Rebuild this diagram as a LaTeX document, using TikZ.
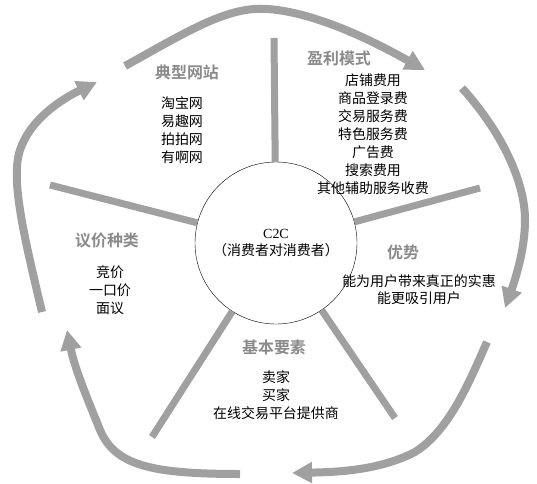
\documentclass[tikz,border=0pt]{standalone}
\usepackage{fontspec}
\setmainfont{Liberation Serif}
\newfontfamily\cjk{Noto Sans CJK SC}
\newfontfamily\cjkbold{Noto Sans CJK SC Bold}
\usetikzlibrary{arrows.meta}
\definecolor{ringgray}{RGB}{160,160,160}
\definecolor{headgray}{RGB}{138,138,138}

\begin{document}
\begin{tikzpicture}[x=1bp, y=-1bp,
  title/.style={font=\cjkbold\fontsize{16}{18}\selectfont, text=headgray},
  items/.style={font=\cjk\fontsize{14}{18}\selectfont, align=center, inner sep=0pt},
  spoke/.style={draw=ringgray, line width=7bp},
  cycle/.style={draw=ringgray, line width=8bp, -{Triangle[length=20bp,width=20bp]}}]
  \useasboundingbox (0,0) rectangle (537,484);

  %--- Centre ---
  \node[circle, draw, thin, minimum size=162bp, inner sep=0pt, font=\fontsize{14}{17}\selectfont, align=center] (c2c) at (276,243) {C2C\\{\cjk （消费者对消费者）}};

  % spoke ends
  \coordinate (sTop) at (274,38);
  \coordinate (sRight) at (480,188);
  \coordinate (sLowR) at (395,418);
  \coordinate (sLowL) at (152,437);
  \coordinate (sLeft) at (50,185);

  \draw[spoke] (c2c) -- (sTop);
  \draw[spoke] (c2c) -- (sRight);
  \draw[spoke] (c2c) -- (sLowR);
  \draw[spoke] (c2c) -- (sLowL);
  \draw[spoke] (c2c) -- (sLeft);

  %--- Sectors ---
  % typical sites
  \node[title] (sites) at (187,72) {典型网站};
  \node[items] (sitesList) at (182,130) {淘宝网\\易趣网\\拍拍网\\有啊网};

  % profit model
  \node[title] (profit) at (339,58) {盈利模式};
  \node[items] (profitList) at (373,134) {店铺费用\\商品登录费\\交易服务费\\特色服务费\\广告费\\搜索费用\\其他辅助服务收费};

  % advantages
  \node[title] (adv) at (403,252) {优势};
  \node[items, font=\cjk\fontsize{14}{17}\selectfont] (advList) at (419,290) {能为用户带来真正的实惠\\能更吸引用户};

  % basic elements
  \node[title] (basics) at (274,347) {基本要素};
  \node[items] (basicsList) at (276,395) {卖家\\买家\\在线交易平台提供商};

  % bargaining types
  \node[title] (bargain) at (107,241) {议价种类};
  \node[items] (bargainList) at (110,290) {竞价\\一口价\\面议};

  %--- Outer cycle ---
  \coordinate (aTopS) at (125,66);
  \coordinate (aTopE) at (425,70);
  \coordinate (aRightS) at (462,88);
  \coordinate (aRightE) at (505,308);
  \coordinate (aLowRS) at (487,342);
  \coordinate (aLowRE) at (292,473);
  \coordinate (aLowLS) at (240,474);
  \coordinate (aLowLE) at (67,330);
  \coordinate (aLeftS) at (42,312);
  \coordinate (aLeftE) at (97,82);

  \draw[cycle] (aTopS) .. controls (190,30) and (228,6) .. (268,9) .. controls (320,13) and (380,45) .. (aTopE);
  \draw[cycle] (aRightS) .. controls (500,130) and (525,180) .. (525,220) .. controls (525,250) and (515,280) .. (aRightE);
  \draw[cycle] (aLowRS) .. controls (470,380) and (450,430) .. (415,452) .. controls (380,470) and (340,472) .. (aLowRE);
  \draw[cycle] (aLowLS) .. controls (150,474) and (115,465) .. (100,430) .. controls (90,405) and (75,370) .. (aLowLE);
  \draw[cycle] (aLeftS) .. controls (25,240) and (10,180) .. (20,150) .. controls (30,120) and (60,100) .. (aLeftE);
\end{tikzpicture}
\end{document}
